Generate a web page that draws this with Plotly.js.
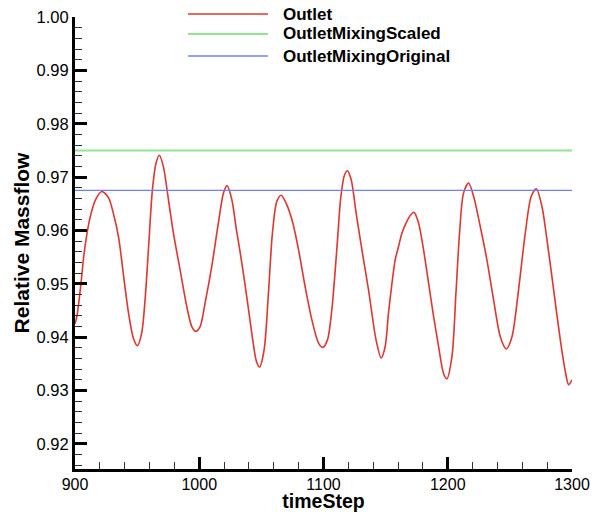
<!DOCTYPE html>
<html>
<head>
<meta charset="utf-8">
<script src="https://cdn.plot.ly/plotly-3.0.1.min.js"></script>
<style>html,body{margin:0;padding:0;background:#fff;}#chart{width:600px;height:512px;}</style>
</head>
<body>
<div id="chart"></div>
<script>
// ---- data ----
const timeStep = [
  900, 901.6, 903.0, 905.1, 907.0, 909.7, 912.3, 916.4, 921.6, 927.0,
  931.1, 935.1, 939.1, 943.1, 947.0, 950.2, 953.7, 956.4, 959.1, 962.3,
  965.2, 967.9, 971.1, 975.2, 979.2, 984.6, 989.9, 994.0, 997.2, 1000.7,
  1004.7, 1010.1, 1015.4, 1019.5, 1022.4, 1026.2, 1030.0, 1033.0, 1036.0, 1039.6,
  1043.6, 1046.0, 1048.5, 1052.2, 1055.7, 1058.9, 1062.4, 1065.9, 1070.5, 1075.3,
  1079.9, 1085.2, 1090.6, 1096.0, 1099.5, 1103.2, 1106.7, 1110.7, 1114.0, 1116.9,
  1119.3, 1122.3, 1126.3, 1130.9, 1136.2, 1142.3, 1146.4, 1149.6, 1152.3, 1155.1,
  1157.7, 1160.4, 1163.1, 1167.1, 1169.8, 1172.8, 1176.5, 1180.5, 1184.6, 1188.6,
  1192.6, 1196.6, 1199.3, 1203.4, 1206.6, 1209.5, 1212.7, 1216.8, 1220.8, 1226.2,
  1231.5, 1236.9, 1242.3, 1247.1, 1251.7, 1257.0, 1262.4, 1267.2, 1271.3, 1275.8,
  1279.9, 1285.2, 1290.6, 1294.6, 1297.3, 1300
];
const outlet = [
  0.9425, 0.9440, 0.9464, 0.9507, 0.9551, 0.9595, 0.9626, 0.9657, 0.9673, 0.9661,
  0.9630, 0.9587, 0.9515, 0.9445, 0.9398, 0.9384, 0.9408, 0.9470, 0.9564, 0.9676,
  0.9726, 0.9741, 0.9720, 0.9658, 0.9595, 0.9526, 0.9458, 0.9420, 0.9411, 0.9420,
  0.9464, 0.9533, 0.9614, 0.9670, 0.9684, 0.9658, 0.9600, 0.9558, 0.9512, 0.9453,
  0.9386, 0.9355, 0.9344, 0.9376, 0.9483, 0.9595, 0.9654, 0.9666, 0.9648, 0.9614,
  0.9564, 0.9495, 0.9433, 0.9389, 0.9381, 0.9395, 0.9451, 0.9564, 0.9664, 0.9704,
  0.9712, 0.9695, 0.9632, 0.9564, 0.9489, 0.9395, 0.9361, 0.9382, 0.9445, 0.9501,
  0.9545, 0.9570, 0.9595, 0.9617, 0.9628, 0.9634, 0.9614, 0.9564, 0.9501, 0.9439,
  0.9383, 0.9332, 0.9322, 0.9364, 0.9483, 0.9595, 0.9670, 0.9689, 0.9664, 0.9607,
  0.9545, 0.9470, 0.9401, 0.9378, 0.9401, 0.9489, 0.9595, 0.9664, 0.9678, 0.9645,
  0.9582, 0.9489, 0.9395, 0.9336, 0.9311, 0.9320
];
const mixingRange = [900, 1300];
const outletMixingScaled = [0.975, 0.975];
const outletMixingOriginal = [0.9675, 0.9675];
const seriesNames = ["Outlet", "OutletMixingScaled", "OutletMixingOriginal"];
const seriesColors = ["#e2352c", "#8ee68e", "#6f80ff"];

// ---- traces ----
const traces = [
  {x: timeStep, y: outlet, mode: "lines", name: seriesNames[0],
   line: {color: seriesColors[0], width: 1.6, shape: "spline", smoothing: 0.8}},
  {x: mixingRange, y: outletMixingScaled, mode: "lines", name: seriesNames[1],
   line: {color: seriesColors[1], width: 2}},
  {x: mixingRange, y: outletMixingOriginal, mode: "lines", name: seriesNames[2],
   line: {color: seriesColors[2], width: 1.3}}
];

// ---- custom legend (long line samples as in the reference) ----
const legRowsY = [1.0066, 0.9624, 0.9137];
const shapes = [];
const annotations = [];
seriesNames.forEach((n, i) => {
  shapes.push({type: "line", xref: "paper", yref: "paper",
    x0: 0.2274, x1: 0.3883, y0: legRowsY[i], y1: legRowsY[i],
    line: {color: seriesColors[i], width: i === 1 ? 2 : 1.4}});
  annotations.push({xref: "paper", yref: "paper", x: 0.4139, y: legRowsY[i],
    xanchor: "left", yanchor: "middle", showarrow: false, text: n,
    font: {family: "Liberation Sans, Arial, sans-serif", size: 17, color: "#000", weight: "bold"}});
});

const fam = "Liberation Sans, Arial, Helvetica, sans-serif";
const layout = {
  width: 600, height: 512,
  margin: {l: 75, r: 28, t: 17, b: 43},
  paper_bgcolor: "#fff", plot_bgcolor: "#fff",
  showlegend: false,
  font: {family: fam, size: 16, color: "#000"},
  xaxis: {
    range: [900, 1300], tickmode: "linear", tick0: 900, dtick: 100,
    ticks: "inside", ticklen: 12, tickwidth: 3, tickcolor: "#000",
    showline: true, linewidth: 3, linecolor: "#000",
    showgrid: false, zeroline: false, ticklabelstandoff: -1,
    minor: {ticks: "inside", ticklen: 7, tickwidth: 1, tickcolor: "#333", dtick: 20, tick0: 900, showgrid: false},
    tickfont: {family: fam, size: 16, color: "#000"},
    title: {text: "timeStep", standoff: 4, font: {family: fam, size: 19.5, color: "#000", weight: "bold"}}
  },
  yaxis: {
    range: [0.9153, 1.0], tickmode: "linear", tick0: 0.92, dtick: 0.01, tickformat: ".2f",
    ticks: "inside", ticklen: 12, tickwidth: 3, tickcolor: "#000",
    showline: true, linewidth: 3, linecolor: "#000",
    showgrid: false, zeroline: false,
    minor: {ticks: "inside", ticklen: 7, tickwidth: 1, tickcolor: "#333", dtick: 0.002, tick0: 0.92, showgrid: false},
    tickfont: {family: fam, size: 16.5, color: "#000"},
    title: {text: "Relative Massflow", standoff: 2, font: {family: fam, size: 21, color: "#000", weight: "bold"}}
  },
  shapes: shapes,
  annotations: annotations
};

Plotly.newPlot("chart", traces, layout, {displayModeBar: false, staticPlot: true});
</script>
</body>
</html>
